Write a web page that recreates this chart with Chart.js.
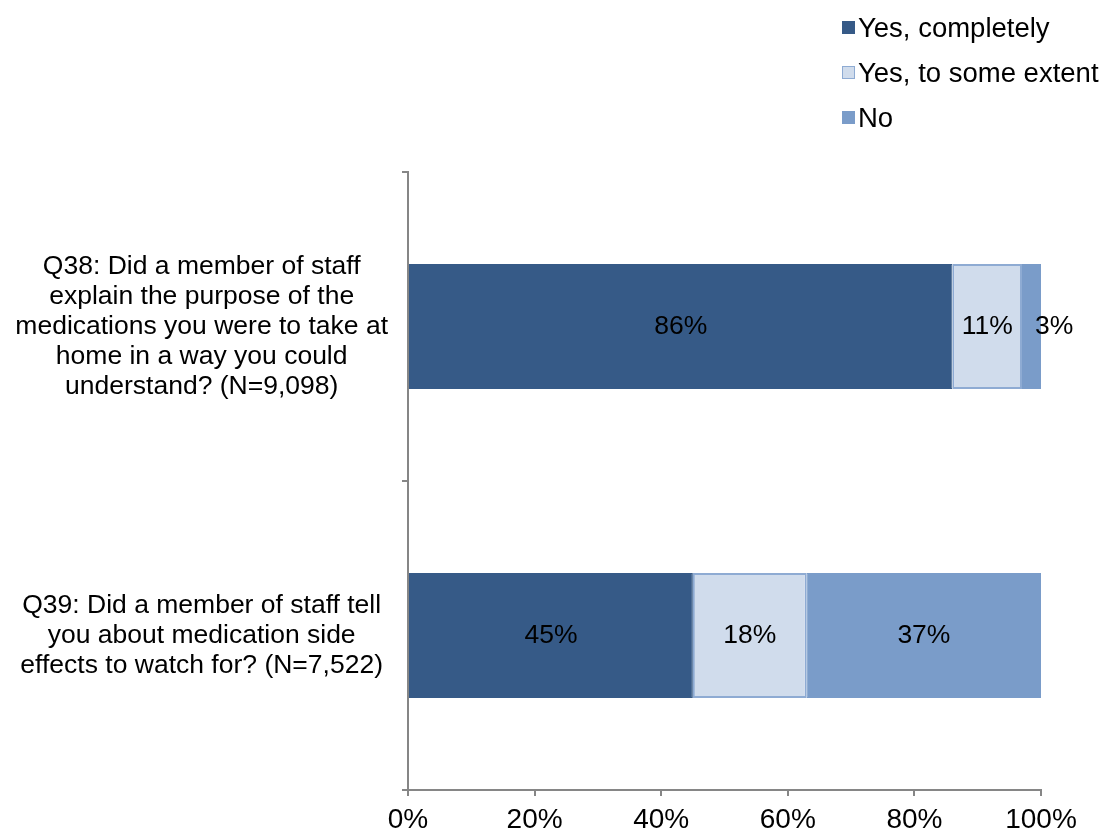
<!DOCTYPE html>
<html>
<head>
<meta charset="utf-8">
<script src="https://cdn.jsdelivr.net/npm/chart.js@4/dist/chart.umd.min.js"></script>
<style>
  body { margin: 0; background: #fff; }
  #wrap { position: relative; width: 1101px; height: 836px; }
  #legend { position: absolute; left: 842px; top: 5px; font: 27.5px "Liberation Sans", Arial, sans-serif; color: #000; }
  #legend .item { display: flex; align-items: center; height: 45px; }
  #legend .box { width: 13px; height: 13px; margin-right: 3px; box-sizing: border-box; }
</style>
</head>
<body>
<div id="wrap">
  <canvas id="js-medication-chart"></canvas>
  <div id="legend"></div>
</div>
<script>
// survey questions, one array of lines per bar
const questions = [
  ['Q38: Did a member of staff', 'explain the purpose of the', 'medications you were to take at', 'home in a way you could', 'understand? (N=9,098)'],
  ['Q39: Did a member of staff tell', 'you about medication side', 'effects to watch for? (N=7,522)']
];
const answers = ['Yes, completely', 'Yes, to some extent', 'No'];
const completely = [86, 45];
const someExtent = [11, 18];
const no = [3, 37];
const xTicks = [0, 20, 40, 60, 80, 100];

const FONT = '"Liberation Sans", Arial, sans-serif';
const AXIS = '#868686';

// write the percentage inside each segment
const segmentLabels = {
  id: 'segmentLabels',
  afterDatasetsDraw(chart) {
    const ctx = chart.ctx;
    ctx.save();
    ctx.font = '26.5px ' + FONT;
    ctx.fillStyle = '#000';
    ctx.textBaseline = 'middle';
    chart.data.datasets.forEach((ds, i) => {
      chart.getDatasetMeta(i).data.forEach((bar, j) => {
        const text = ds.data[j] + '%';
        const w = bar.x - bar.base;
        const tw = ctx.measureText(text).width;
        if (tw + 4 < w) {
          ctx.textAlign = 'center';
          ctx.fillText(text, bar.base + w / 2, bar.y);
        } else {
          ctx.textAlign = 'left';
          ctx.fillText(text, bar.x - 6, bar.y);
        }
      });
    });
    ctx.restore();
  }
};

const chart = new Chart(document.getElementById('js-medication-chart').getContext('2d'), {
  type: 'bar',
  data: {
    labels: questions,
    datasets: [
      { label: answers[0], data: completely, backgroundColor: '#365a87', borderColor: '#365a87', borderWidth: 1 },
      { label: answers[1], data: someExtent, backgroundColor: '#d0dcec', borderColor: '#8eabd3', borderWidth: 2 },
      { label: answers[2], data: no, backgroundColor: '#7a9cc9', borderColor: '#7a9cc9', borderWidth: 1 }
    ]
  },
  options: {
    indexAxis: 'y',
    responsive: true,
    maintainAspectRatio: false,
    animation: false,
    layout: { padding: { top: 172, right: 60, left: 0, bottom: 0 } },
    datasets: { bar: { categoryPercentage: 1, barPercentage: 0.405, borderSkipped: false } },
    plugins: {
      legend: { display: false },
      tooltip: { enabled: false }
    },
    scales: {
      x: {
        stacked: true,
        min: 0,
        max: 100,
        afterBuildTicks: scale => { scale.ticks = xTicks.map(v => ({ value: v })); },
        afterFit: scale => { scale.height = 46; },
        ticks: { callback: v => v + '%', color: '#000', font: { family: FONT, size: 28, lineHeight: 1 }, padding: 10, maxRotation: 0 },
        grid: { drawOnChartArea: false, color: AXIS, lineWidth: 2, tickLength: 6 },
        border: { color: AXIS, width: 2 }
      },
      y: {
        stacked: true,
        // labels sit beside the bars, so no extra room above/below the axis
        afterFit: scale => { scale.width = 408; scale.paddingTop = 0; scale.paddingBottom = 0; },
        ticks: { color: '#000', font: { family: FONT, size: 26.5, lineHeight: 1.13 }, crossAlign: 'center', padding: 14 },
        grid: { drawOnChartArea: false, color: AXIS, lineWidth: 2, tickLength: 6, offset: true },
        border: { color: AXIS, width: 2 }
      }
    }
  },
  plugins: [segmentLabels]
});

// legend stacked one entry per row
const legendEl = document.getElementById('legend');
chart.data.datasets.forEach(ds => {
  const item = document.createElement('div');
  item.className = 'item';
  const box = document.createElement('span');
  box.className = 'box';
  box.style.background = ds.backgroundColor;
  box.style.border = '1px solid ' + ds.borderColor;
  const txt = document.createElement('span');
  txt.textContent = ds.label;
  item.appendChild(box);
  item.appendChild(txt);
  legendEl.appendChild(item);
});
</script>
</body>
</html>
